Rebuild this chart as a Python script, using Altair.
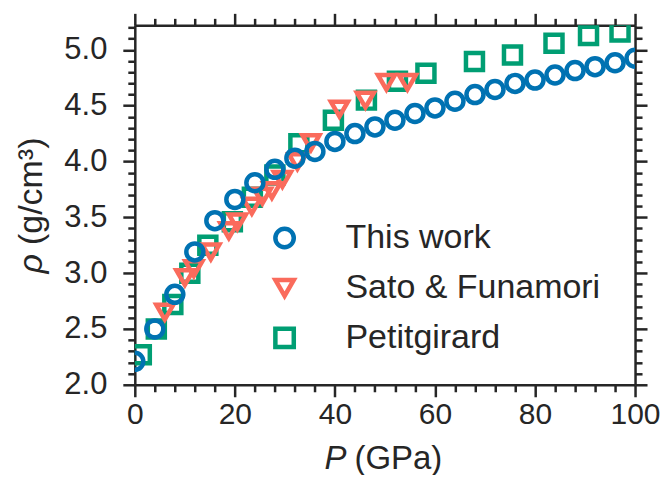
import altair as alt
import pandas as pd

# ---- data ----
series_names = ["This work", "Sato & Funamori", "Petitgirard"]
series_colors = ["#0072B2", "#FA6B5C", "#009E73"]
series_shapes = ["circle", "triangle-down", "square"]

this_P = [0, 4, 8, 12, 16, 20, 24, 28, 32, 36, 40, 44, 48, 52, 56, 60, 64, 68, 72, 76, 80, 84, 88, 92, 96, 100]
this_rho = [2.21, 2.50, 2.81, 3.19, 3.47, 3.66, 3.81, 3.93, 4.03, 4.09, 4.18, 4.25, 4.31, 4.37, 4.43, 4.48,
            4.54, 4.60, 4.645, 4.70, 4.73, 4.775, 4.815, 4.85, 4.885, 4.925]

sato_P = [6.0, 10.0, 11.8, 15.2, 18.8, 20.5, 23.4, 25.5, 27.4, 29.5, 32.5, 35.2, 40.9, 46.1, 50.3, 54.5]
sato_rho = [2.65, 2.96, 3.04, 3.19, 3.38, 3.46, 3.60, 3.69, 3.74, 3.84, 4.00, 4.17, 4.47, 4.55, 4.71, 4.71]

petit_P = [1.3, 4.3, 7.6, 11.0, 14.6, 19.5, 23.5, 28.0, 32.8, 39.7, 46.3, 52.5, 58.2, 67.9, 75.5, 83.8, 90.7, 97.0]
petit_rho = [2.27, 2.50, 2.72, 3.00, 3.25, 3.46, 3.68, 3.88, 4.16, 4.37, 4.55, 4.72, 4.79, 4.895, 4.955, 5.06, 5.13, 5.16]

x_tick_values = [0, 4, 8, 12, 16, 20, 24, 28, 32, 36, 40, 44, 48, 52, 56, 60, 64, 68, 72, 76, 80, 84, 88, 92, 96, 100]
y_tick_values = [2.0, 2.1, 2.2, 2.3, 2.4, 2.5, 2.6, 2.7, 2.8, 2.9, 3.0, 3.1, 3.2, 3.3, 3.4, 3.5, 3.6, 3.7, 3.8,
                 3.9, 4.0, 4.1, 4.2, 4.3, 4.4, 4.5, 4.6, 4.7, 4.8, 4.9, 5.0, 5.1, 5.2]

# drawing order: Petitgirard bottom, Sato middle, This work on top
df = pd.concat([
    pd.DataFrame({"P": petit_P, "rho": petit_rho, "series": series_names[2]}),
    pd.DataFrame({"P": sato_P, "rho": sato_rho, "series": series_names[1]}),
    pd.DataFrame({"P": this_P, "rho": this_rho, "series": series_names[0]}),
], ignore_index=True)

FONT = "Liberation Sans"
INK = "#262626"

x_major = "datum.value % 20 === 0"
y_major = "abs(datum.value * 2 - round(datum.value * 2)) < 0.001"

def x_axis(orient, labels):
    kw = dict(
        orient=orient, values=x_tick_values, title=None, grid=False,
        domainColor=INK, domainWidth=2.5, tickColor=INK, tickWidth=2.5,
        tickSize={"condition": {"test": x_major, "value": 12}, "value": 7},
        labels=labels,
    )
    if labels:
        kw.update(labelExpr=f"{x_major} ? datum.label : ''", labelFont=FONT, labelFontSize=30,
                  labelColor=INK, labelPadding=3, labelFlush=False, labelOverlap=False, labelBound=False)
    return alt.Axis(**kw)

def y_axis(orient, labels):
    kw = dict(
        orient=orient, values=y_tick_values, title=None, grid=False,
        domainColor=INK, domainWidth=2.5, tickColor=INK, tickWidth=2.5,
        tickSize={"condition": {"test": y_major, "value": 12}, "value": 7},
        labels=labels,
    )
    if labels:
        kw.update(labelExpr=f"{y_major} ? format(datum.value, '.1f') : ''", labelFont=FONT, labelFontSize=31,
                  labelColor=INK, labelPadding=16, labelFlush=False, labelOverlap=False, labelBound=False)
    return alt.Axis(**kw)

xscale = alt.Scale(domain=[0, 100], nice=False, zero=False)
yscale = alt.Scale(domain=[2.0, 5.22], nice=False, zero=False)

legend = alt.Legend(
    title=None, orient="none", legendX=133, legendY=196, padding=0,
    labelFont=FONT, labelFontSize=34, labelColor=INK, labelOffset=44, labelLimit=500,
    symbolSize=340, symbolStrokeWidth=4.5, rowPadding=14,
)

points = alt.Chart(df).mark_point(filled=False, strokeWidth=4.5, size=290, clip=True, opacity=1).encode(
    x=alt.X("P:Q", scale=xscale, axis=x_axis("bottom", True)),
    y=alt.Y("rho:Q", scale=yscale, axis=y_axis("left", True)),
    color=alt.Color("series:N", scale=alt.Scale(domain=series_names, range=series_colors), legend=legend),
    shape=alt.Shape("series:N", scale=alt.Scale(domain=series_names, range=series_shapes), legend=legend),
)

frame = alt.Chart(df).mark_point(opacity=0).encode(
    x=alt.X("P:Q", scale=xscale, axis=x_axis("top", False)),
    y=alt.Y("rho:Q", scale=yscale, axis=y_axis("right", False)),
)

def label(txt, x, y, align, style="normal", angle=0, size=34):
    return alt.Chart(pd.DataFrame({"t": [txt]})).mark_text(
        font=FONT, fontSize=size, fontStyle=style, color=INK, align=align,
        baseline="alphabetic", angle=angle,
    ).encode(text="t:N", x=alt.value(x), y=alt.value(y))

titles = [
    label("P", 212, 444, "right", "italic", 0, 33),
    label("(GPa)", 220, 444, "left", "normal", 0, 33),
    label("ρ", -93, 229, "right", "italic", 270),
    label("(g/cm³)", -93, 220, "left", "normal", 270),
]

chart = alt.layer(points, frame, *titles).resolve_axis(x="independent", y="independent").properties(
    width=501, height=360,
    autosize=alt.AutoSizeParams(type="none"),
    padding={"left": 127, "top": 17, "right": 25, "bottom": 90},
).configure_view(stroke="transparent")

chart.save("out.html", embed_options={"renderer": "svg", "actions": False})
